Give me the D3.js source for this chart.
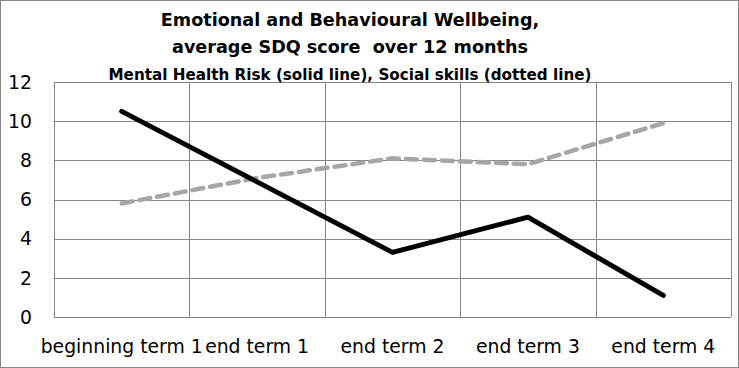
<!doctype html>
<html lang="en">
  <head>
    <meta charset="UTF-8">
    <title>Emotional and Behavioural Wellbeing</title>
    <style>
      body {
        margin: 0;
        background: #fff;
      }
      svg text {
        font-family: "DejaVu Sans", sans-serif;
        fill: #000;
      }
      .grid line {
        stroke: #868686;
        stroke-width: 1px;
        shape-rendering: crispEdges;
      }
      .title {
        font-weight: bold;
        font-size: 17.6px;
        text-anchor: middle;
      }
      .subtitle {
        font-weight: bold;
        font-size: 15.2px;
        text-anchor: middle;
      }
      .tick-label {
        font-size: 18.8px;
      }
    </style>
  </head>
  <body>
    <svg width="739" height="368"></svg>
    <script src="https://d3js.org/d3.v7.min.js"></script>
    <script>

      // data
      var categories = ["beginning term 1", "end term 1", "end term 2", "end term 3", "end term 4"];
      var mentalHealth = [10.5, 6.9, 3.3, 5.1, 1.1];   // solid line
      var socialSkills = [5.8, 7.1, 8.1, 7.8, 9.9];    // dotted line
      var yTicks = [0, 2, 4, 6, 8, 10, 12];
      var titleLines = ["Emotional and Behavioural Wellbeing,", "average SDQ score  over 12 months"];
      var subtitle = "Mental Health Risk (solid line), Social skills (dotted line)";

      var svg = d3.select("svg"),
              width = +svg.attr("width"),
              height = +svg.attr("height"),
              plot = {left: 54, right: 731, top: 82, bottom: 317};

      // outer chart border
      svg.append("rect")
              .attr("x", 0.5).attr("y", 0.5)
              .attr("width", width - 1).attr("height", height - 1)
              .attr("fill", "#fff")
              .attr("stroke", "#868686");

      var x = d3.scaleBand()
              .domain(categories)
              .range([plot.left, plot.right])
              .paddingInner(0)
              .paddingOuter(0);

      var y = d3.scaleLinear()
              .domain([0, 12])
              .range([plot.bottom, plot.top]);

      var grid = svg.append("g").attr("class", "grid");

      // horizontal gridlines
      grid.selectAll("line.h")
              .data(yTicks)
              .enter().append("line")
              .attr("class", "h")
              .attr("x1", plot.left).attr("x2", plot.right)
              .attr("y1", function (d) { return Math.round(y(d)) + 0.5; })
              .attr("y2", function (d) { return Math.round(y(d)) + 0.5; });

      // vertical gridlines between the categories
      var edges = categories.map(function (c) { return x(c); }).concat([plot.right]);
      grid.selectAll("line.v")
              .data(edges)
              .enter().append("line")
              .attr("class", "v")
              .attr("y1", plot.top).attr("y2", plot.bottom)
              .attr("x1", function (d) { return Math.round(d) + 0.5; })
              .attr("x2", function (d) { return Math.round(d) + 0.5; });

      // y axis labels
      svg.append("g").selectAll("text")
              .data(yTicks)
              .enter().append("text")
              .attr("class", "tick-label")
              .attr("x", 32)
              .attr("y", function (d) { return y(d); })
              .attr("dy", "0.36em")
              .attr("text-anchor", "end")
              .text(function (d) { return d; });

      // x axis labels
      svg.append("g").selectAll("text")
              .data(categories)
              .enter().append("text")
              .attr("class", "tick-label")
              .attr("x", function (d) { return x(d) + x.bandwidth() / 2; })
              .attr("y", 353)
              .attr("text-anchor", "middle")
              .text(function (d) { return d; });

      var line = d3.line()
              .x(function (d, i) { return x(categories[i]) + x.bandwidth() / 2; })
              .y(function (d) { return y(d); });

      svg.append("path")
              .datum(socialSkills)
              .attr("d", line)
              .attr("fill", "none")
              .attr("stroke", "#a6a6a6")
              .attr("stroke-width", 4.5)
              .attr("stroke-dasharray", "11,7")
              .attr("stroke-linecap", "round");

      svg.append("path")
              .datum(mentalHealth)
              .attr("d", line)
              .attr("fill", "none")
              .attr("stroke", "#000")
              .attr("stroke-width", 5)
              .attr("stroke-linecap", "round")
              .attr("stroke-linejoin", "round");

      // titles
      svg.append("g").selectAll("text")
              .data(titleLines)
              .enter().append("text")
              .attr("class", "title")
              .attr("x", 350)
              .attr("y", function (d, i) { return 26 + i * 27; })
              .attr("xml:space", "preserve")
              .text(function (d) { return d; });

      svg.append("text")
              .attr("class", "subtitle")
              .attr("x", 350)
              .attr("y", 80)
              .text(subtitle);

    </script>
  </body>
</html>
